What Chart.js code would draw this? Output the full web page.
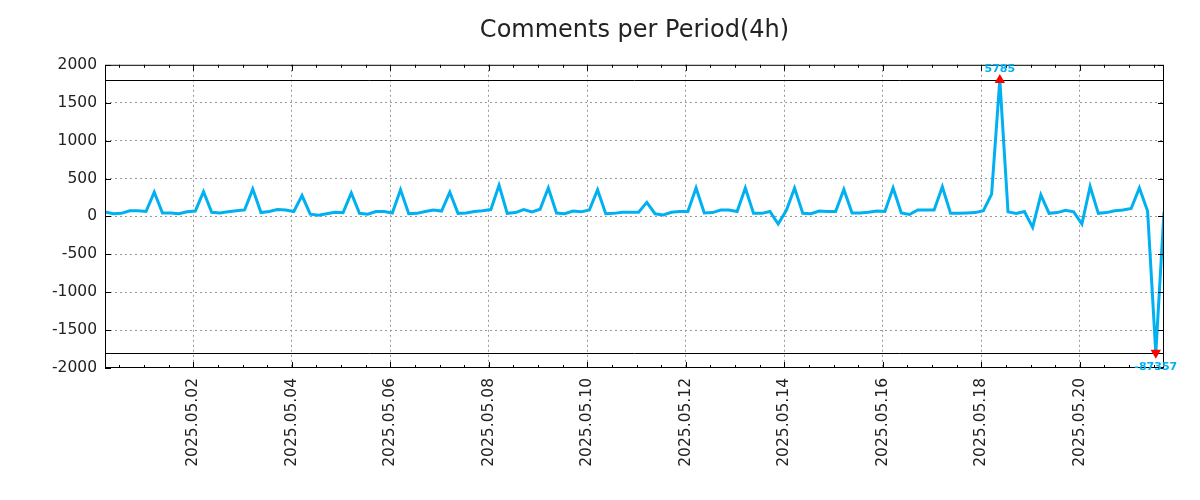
<!DOCTYPE html>
<html>
<head>
<meta charset="utf-8">
<title>Comments per Period(4h)</title>
<script src="https://cdn.jsdelivr.net/npm/chart.js@4/dist/chart.umd.min.js"></script>
<style>
  html, body { margin: 0; padding: 0; background: #fff; }
  #wrap { width: 1200px; height: 500px; }
</style>
</head>
<body>
<div id="wrap"><canvas id="commentsChart" width="1200" height="500"></canvas></div>
<script>
// periods are 4h long, first one starts 2025-04-30 05:00
// x values are hours counted from 2025-04-30 00:00
const firstPeriodHour = 5;
const periodHours = 4;

// comments per period (raw values, two of them are way off the scale)
const commentCounts = [
  60, 35, 40, 75, 75, 65, 320, 45, 45, 35,
  60, 70, 325, 55, 45, 60, 75, 85, 360, 50,
  65, 90, 85, 65, 275, 30, 15, 35, 55, 50,
  310, 40, 30, 65, 65, 45, 350, 35, 40, 65,
  85, 70, 320, 40, 45, 65, 75, 90, 410, 40,
  50, 90, 60, 95, 375, 45, 35, 70, 60, 85,
  350, 35, 40, 55, 55, 55, 185, 35, 20, 55,
  65, 65, 375, 45, 50, 85, 85, 65, 375, 40,
  40, 65, -100, 80, 375, 40, 35, 70, 65, 65,
  355, 45, 45, 55, 70, 65, 375, 45, 25, 85,
  85, 85, 390, 40, 40, 45, 50, 75, 295, 5785,
  60, 40, 65, -145, 285, 40, 50, 80, 60, -100,
  395, 40, 50, 75, 85, 105, 375, 70, -87357, 60
];

// values beyond this are drawn on the limit line and marked
const clipLimit = 1800;

const yTicks = [-2000, -1500, -1000, -500, 0, 500, 1000, 1500, 2000];
const dateTickHours = [48, 96, 144, 192, 240, 288, 336, 384, 432, 480];
const dateTickLabels = [
  '2025.05.02', '2025.05.04', '2025.05.06', '2025.05.08', '2025.05.10',
  '2025.05.12', '2025.05.14', '2025.05.16', '2025.05.18', '2025.05.20'
];
const minorTickStep = 12; // hours

const lineColor = '#00b0f0';
const fontFamily = "'DejaVu Sans', sans-serif";

const points = commentCounts.map((v, i) => ({
  x: firstPeriodHour + i * periodHours,
  y: Math.max(-clipLimit, Math.min(clipLimit, v))
}));
const xMin = firstPeriodHour;
const xMax = firstPeriodHour + (commentCounts.length - 1) * periodHours;

const isClipped = (i) => Math.abs(commentCounts[i]) > clipLimit;

// gnuplot-like frame: box, inward ticks, limit lines, value labels
const framePlugin = {
  id: 'frame',
  beforeDatasetsDraw(chart) {
    const { ctx, chartArea: a, scales: { y } } = chart;
    ctx.save();
    ctx.strokeStyle = '#000';
    ctx.lineWidth = 1;
    [clipLimit, -clipLimit].forEach((v) => {
      const py = Math.round(y.getPixelForValue(v)) + 0.5;
      ctx.beginPath();
      ctx.moveTo(a.left, py);
      ctx.lineTo(a.right, py);
      ctx.stroke();
    });
    ctx.restore();
  },
  afterDraw(chart) {
    const { ctx, chartArea: a, scales: { x, y } } = chart;
    ctx.save();
    ctx.strokeStyle = '#000';
    ctx.lineWidth = 1;
    ctx.strokeRect(a.left + 0.5, a.top + 0.5, a.right - a.left - 1, a.bottom - a.top - 1);

    ctx.beginPath();
    x.ticks.forEach((t) => {
      const px = Math.round(x.getPixelForValue(t.value)) + 0.5;
      const len = dateTickHours.includes(t.value) ? 6 : 3;
      ctx.moveTo(px, a.bottom);
      ctx.lineTo(px, a.bottom - len);
      ctx.moveTo(px, a.top);
      ctx.lineTo(px, a.top + len);
    });
    y.ticks.forEach((t) => {
      const py = Math.round(y.getPixelForValue(t.value)) + 0.5;
      ctx.moveTo(a.left, py);
      ctx.lineTo(a.left + 6, py);
      ctx.moveTo(a.right, py);
      ctx.lineTo(a.right - 6, py);
    });
    ctx.stroke();

    // real values of the clipped points
    const meta = chart.getDatasetMeta(0);
    ctx.fillStyle = lineColor;
    ctx.font = 'bold 11px ' + fontFamily;
    ctx.textAlign = 'center';
    ctx.textBaseline = 'middle';
    commentCounts.forEach((v, i) => {
      if (!isClipped(i)) return;
      const p = meta.data[i];
      ctx.fillText(String(v), p.x, v > 0 ? p.y - 11 : p.y + 14);
    });
    ctx.restore();
  }
};

new Chart(document.getElementById('commentsChart'), {
  type: 'line',
  data: {
    datasets: [{
      label: 'Comments',
      data: points,
      borderColor: lineColor,
      borderWidth: 3,
      tension: 0,
      fill: false,
      pointRadius: (ctx) => isClipped(ctx.dataIndex) ? 6 : 0,
      pointStyle: 'triangle',
      pointRotation: (ctx) => commentCounts[ctx.dataIndex] < 0 ? 180 : 0,
      pointBackgroundColor: '#ff0000',
      pointBorderColor: '#ff0000',
      pointBorderWidth: 0
    }]
  },
  options: {
    responsive: false,
    animation: false,
    devicePixelRatio: 1,
    layout: { padding: { left: 0, right: 36, top: 0, bottom: 0 } },
    plugins: {
      legend: { display: false },
      tooltip: { enabled: false },
      title: {
        display: true,
        text: 'Comments per Period(4h)',
        fullSize: false,
        color: '#222',
        font: { family: fontFamily, size: 24, weight: 'normal' },
        padding: { top: 16, bottom: 20 }
      }
    },
    scales: {
      x: {
        type: 'linear',
        min: xMin,
        max: xMax,
        afterBuildTicks: (scale) => {
          const ticks = [];
          for (let h = minorTickStep; h <= xMax; h += minorTickStep) ticks.push({ value: h });
          scale.ticks = ticks;
        },
        afterFit: (scale) => { scale.height = 132; },
        border: { display: false, dash: [2, 3] },
        grid: {
          drawTicks: false,
          lineWidth: 1,
          color: (ctx) => (ctx.tick && dateTickHours.includes(ctx.tick.value)) ? '#999' : 'rgba(0,0,0,0)'
        },
        ticks: {
          autoSkip: false,
          minRotation: 90,
          maxRotation: 90,
          padding: 10,
          color: '#222',
          font: { family: fontFamily, size: 15.5 },
          callback: (value) => {
            const k = dateTickHours.indexOf(value);
            return k >= 0 ? dateTickLabels[k] : '';
          }
        }
      },
      y: {
        min: yTicks[0],
        max: yTicks[yTicks.length - 1],
        afterBuildTicks: (scale) => { scale.ticks = yTicks.map((v) => ({ value: v })); },
        afterFit: (scale) => { scale.width = 105; },
        border: { display: false, dash: [2, 3] },
        grid: {
          drawTicks: false,
          lineWidth: 1,
          color: (ctx) => (ctx.tick && Math.abs(ctx.tick.value) < 2000) ? '#999' : 'rgba(0,0,0,0)'
        },
        ticks: {
          padding: 8,
          color: '#222',
          font: { family: fontFamily, size: 15.5 },
          callback: (value) => String(value)
        }
      }
    }
  },
  plugins: [framePlugin]
});
</script>
</body>
</html>
